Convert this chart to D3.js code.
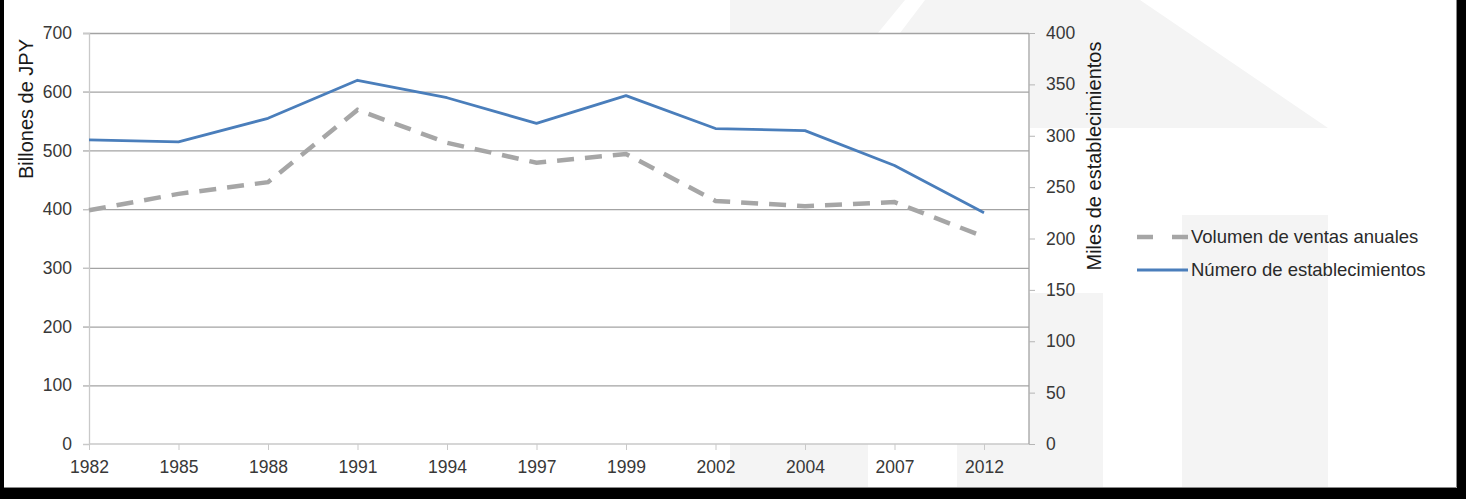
<!DOCTYPE html>
<html>
<head>
<meta charset="utf-8">
<script src="https://cdn.jsdelivr.net/npm/d3@7"></script>
<style>
    body { margin: 0; background: #fff; }
    svg { display: block; font-family: "Liberation Sans", Arial, sans-serif; }
</style>
</head>
<body>
<div id="chart"></div>
<script>
const years = ["1982","1985","1988","1991","1994","1997","1999","2002","2004","2007","2012"];
// billones de JPY (eje izquierdo)
const ventas = [398, 426, 446, 569, 513, 479, 494, 414, 405, 412, 353];
// miles de establecimientos (eje derecho)
const establecimientos = [296, 294, 317, 354, 337, 312, 339, 307, 305, 271, 225];
const leftTicks = [0, 100, 200, 300, 400, 500, 600, 700];
const rightTicks = [0, 50, 100, 150, 200, 250, 300, 350, 400];
const seriesNames = ["Volumen de ventas anuales", "Número de establecimientos"];

class DualAxisChart {
    constructor({selector, width = 1466, height = 499}) {
        this.selector = selector;
        this.width = width;
        this.height = height;
        this.plot = {left: 89, right: 1029, top: 33, bottom: 444};
        this.blue = "#4a7ebb";
        this.grey = "#a6a6a6";
        this.gridColor = "#a3a3a3";
        this.labelColor = "#383838";
        this.tickFont = "17.5px";
    }
    drawWatermark() {
        // logo muy claro detras del grafico
        const wm = this.svg.append("g").attr("class", "watermark").attr("fill", "#f4f4f4");
        const shapes = [
            [[730,0],[905,0],[868,45],[868,499],[730,499]],
            [[925,0],[1140,0],[1328,128],[1030,128],[1030,33],[900,33]],
            [[1182,215],[1328,215],[1328,499],[1182,499]],
            [[957,293],[1103,293],[1103,499],[957,499]]
        ];
        wm.selectAll("polygon").data(shapes).enter().append("polygon")
            .attr("points", d => d.map(p => p.join(",")).join(" "));
    }
    styleAxis(g, domainColor, tickColor) {
        g.select(".domain").attr("stroke", domainColor).attr("stroke-width", 1.3);
        g.selectAll(".tick line").attr("stroke", tickColor);
        g.selectAll(".tick text").attr("fill", this.labelColor)
            .style("font-size", this.tickFont);
    }
    draw() {
        const p = this.plot;
        this.svg = d3.select(this.selector).append("svg")
            .attr("width", this.width)
            .attr("height", this.height);
        this.drawWatermark();

        this.svg.append("rect")
            .attr("x", p.left).attr("y", p.top)
            .attr("width", p.right - p.left).attr("height", p.bottom - p.top)
            .attr("fill", "#fff");

        const step = 89.5;
        const x = d3.scalePoint().domain(years).range([p.left, p.left + step * (years.length - 1)]);
        const yL = d3.scaleLinear().domain([0, 700]).range([p.bottom, p.top]);
        const yR = d3.scaleLinear().domain([0, 400]).range([p.bottom, p.top]);

        // lineas de cuadricula (eje izquierdo)
        const grid = this.svg.append("g")
            .attr("transform", `translate(${p.right},0)`)
            .call(d3.axisLeft(yL).tickValues(leftTicks.filter(t => t > 0))
                .tickSize(p.right - p.left + 6).tickFormat(""));
        grid.select(".domain").remove();
        grid.selectAll(".tick line").attr("stroke", this.gridColor).attr("stroke-width", 1.3);

        // eje izquierdo
        const left = this.svg.append("g")
            .attr("transform", `translate(${p.left},0)`)
            .call(d3.axisLeft(yL).tickValues(leftTicks).tickSize(6).tickPadding(11));
        this.styleAxis(left, "#c9c9c9", "#c9c9c9");

        // eje inferior
        const bottom = this.svg.append("g")
            .attr("transform", `translate(0,${p.bottom})`)
            .call(d3.axisBottom(x).tickSize(6).tickPadding(11));
        this.styleAxis(bottom, "#c9c9c9", "#c9c9c9");
        bottom.select(".domain").attr("d", `M${p.left},0H${p.right}`);

        // eje derecho
        const right = this.svg.append("g")
            .attr("transform", `translate(${p.right},0)`)
            .call(d3.axisRight(yR).tickValues(rightTicks).tickSize(6).tickPadding(11));
        this.styleAxis(right, "#a3a3a3", "#b5b5b5");
        right.select(".domain").attr("d", `M0,${p.top}V${p.bottom}`);

        // titulos de ejes
        this.svg.append("text")
            .attr("transform", "translate(33,109) rotate(-90)")
            .attr("text-anchor", "middle")
            .attr("fill", "#1a1a1a")
            .style("font-size", "20px")
            .text("Billones de JPY");
        this.svg.append("text")
            .attr("transform", "translate(1101,156) rotate(-90)")
            .attr("text-anchor", "middle")
            .attr("fill", "#1a1a1a")
            .style("font-size", "20px")
            .text("Miles de establecimientos");

        // series
        const lineL = d3.line().x((d, i) => x(years[i])).y(d => yL(d));
        const lineR = d3.line().x((d, i) => x(years[i])).y(d => yR(d));
        this.svg.append("path")
            .datum(ventas)
            .attr("fill", "none")
            .attr("stroke", this.grey)
            .attr("stroke-width", 4.5)
            .attr("stroke-dasharray", "17,11")
            .attr("d", lineL);
        this.svg.append("path")
            .datum(establecimientos)
            .attr("fill", "none")
            .attr("stroke", this.blue)
            .attr("stroke-width", 2.8)
            .attr("stroke-linejoin", "round")
            .attr("d", lineR);

        // leyenda
        const legend = this.svg.append("g").attr("transform", "translate(1137,237)");
        const items = legend.selectAll("g").data(seriesNames).enter().append("g")
            .attr("transform", (d, i) => `translate(0,${i * 33})`);
        items.append("line")
            .attr("x1", 0).attr("x2", 51)
            .attr("stroke", (d, i) => i === 0 ? this.grey : this.blue)
            .attr("stroke-width", (d, i) => i === 0 ? 4.5 : 2.8)
            .attr("stroke-dasharray", (d, i) => i === 0 ? "16,19" : null);
        items.append("text")
            .attr("x", 54)
            .attr("dy", "0.35em")
            .attr("fill", "#2a2a2a")
            .style("font-size", "18.5px")
            .text(d => d);

        // marco negro de la captura
        const frame = this.svg.append("g").attr("fill", "#000");
        frame.append("rect").attr("x", 0).attr("y", 0).attr("width", 4).attr("height", this.height);
        frame.append("rect").attr("x", 1457).attr("y", 0).attr("width", 9).attr("height", this.height);
        frame.append("rect").attr("x", 0).attr("y", 488).attr("width", this.width).attr("height", 11);
        this.svg.append("path")
            .attr("d", "M4,487.5H1456.5V0")
            .attr("fill", "none").attr("stroke", "#8a8a8a").attr("stroke-width", 1);
    }
}

new DualAxisChart({selector: "#chart"}).draw();
</script>
</body>
</html>
